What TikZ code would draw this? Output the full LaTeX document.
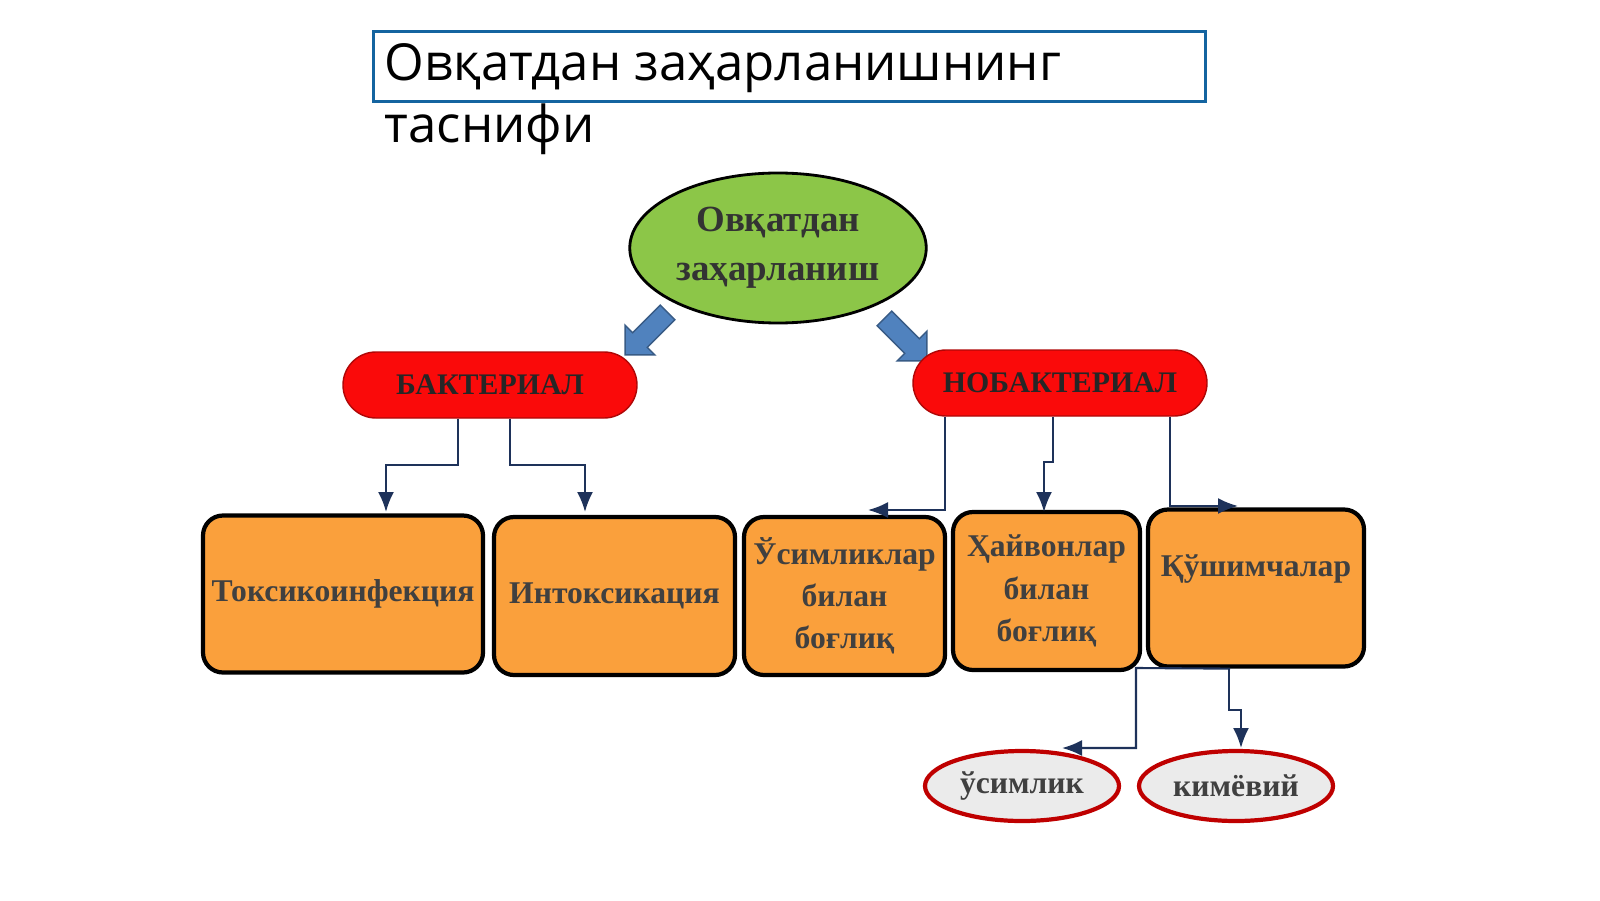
\documentclass[tikz,border=0pt]{standalone}
\usepackage{fontspec}
\setmainfont{Liberation Serif}
\newfontfamily\titlefont{Open Sans}
\usetikzlibrary{positioning, arrows.meta, shapes.geometric, shapes.arrows}
\definecolor{leafgreen}{RGB}{140,198,72}
\definecolor{boxorange}{RGB}{250,160,60}
\definecolor{pillred}{RGB}{250,10,10}
\definecolor{arrowblue}{RGB}{80,130,190}
\definecolor{linkblue}{RGB}{30,50,90}
\definecolor{framecol}{RGB}{20,100,160}
\tikzset{
    root/.style={ellipse, draw=black, thick, fill=leafgreen, minimum width=2.94cm, minimum height=1.5cm, inner sep=1pt, align=center, font=\bfseries\fontsize{10.5}{14}\selectfont, text=black!80},
    pill/.style={rectangle, rounded corners=0.33cm, draw=pillred!70!black, fill=pillred, minimum width=2.94cm, minimum height=0.66cm, inner sep=1pt, font=\bfseries\fontsize{8.5}{10}\selectfont, text=black!85},
    kind/.style={rectangle, rounded corners=0.2cm, draw=black, very thick, fill=boxorange, align=center, inner sep=1pt, font=\bfseries\fontsize{9}{12}\selectfont, text=black!75},
    leaf/.style={ellipse, draw=red!75!black, very thick, fill=black!8, minimum width=1.94cm, minimum height=0.7cm, inner sep=0pt, font=\bfseries\fontsize{9}{11}\selectfont, text=black!75},
    link/.style={-{Latex[length=2mm,width=1.6mm]}, linkblue, semithick},
    fat/.style={single arrow, fill=arrowblue, draw=arrowblue!70!black, minimum height=0.6cm, minimum width=0.42cm, single arrow head extend=0.1cm, inner sep=0.09cm}
}
\begin{document}
\begin{tikzpicture}
    \useasboundingbox (0,0) rectangle (16,9);
    % title
    \node (frame) [draw=framecol, thick, minimum width=8.32cm, minimum height=0.7cm, anchor=north west] at (3.72,8.7) {};
    \node (title) [anchor=north west, align=left, font=\titlefont\fontsize{14.5}{17.5}\selectfont, inner sep=0pt] at (3.84,8.57) {Овқатдан заҳарланишнинг\\таснифи};

    \node (food) [root] at (7.78,6.52) {Овқатдан\\заҳарланиш};
    \node (arL) [fat, rotate=-135] at (6.5,5.7) {};
    \node (arR) [fat, rotate=-45] at (9.02,5.64) {};

    \node (bact) [pill] at (4.9,5.15) {БАКТЕРИАЛ};
    \node (nobact) [pill] at (10.6,5.17) {НОБАКТЕРИАЛ};

    \node (toxi) [kind, minimum width=2.8cm, minimum height=1.57cm] at (3.43,3.06) {Токсикоинфекция};
    \node (intox) [kind, minimum width=2.41cm, minimum height=1.58cm] at (6.145,3.04) {Интоксикация};
    \node (plant) [kind, minimum width=2.01cm, minimum height=1.58cm] at (8.445,3.04) {Ўсимликлар\\билан\\боғлиқ};
    \node (animal) [kind, minimum width=1.87cm, minimum height=1.58cm] at (10.465,3.09) {Ҳайвонлар\\билан\\боғлиқ};
    \node (addit) [kind, minimum width=2.16cm, minimum height=1.57cm, text depth=0.45cm] at (12.56,3.12) {Қўшимчалар};

    \node (veg) [leaf] at (10.22,1.14) {ўсимлик};
    \node (chem) [leaf] at (12.36,1.14) {кимёвий};

    % connectors
    \coordinate (t1) at (3.86,3.88);
    \coordinate (t2) at (5.85,3.88);
    \coordinate (t3) at (8.68,3.9);
    \coordinate (t4) at (10.44,3.88);
    \coordinate (t5) at (12.38,3.94);
    \coordinate (t6) at (10.62,1.52);
    \coordinate (t7) at (12.41,1.52);
    \draw[link] (bact.south -| 4.58,0) |- (3.86,4.35) -- (t1);
    \draw[link] (bact.south -| 5.1,0) |- (5.85,4.35) -- (t2);
    \draw[link] (nobact.south -| 9.45,0) |- (t3);
    \draw[link] (nobact.south -| 10.53,0) |- (10.44,4.38) -- (t4);
    \draw[link] (nobact.south -| 11.7,0) |- (t5);
    \draw[link] (addit.south -| 12.3,0) -- (11.36,2.32) |- (t6);
    \draw[link] (addit.south -| 12.29,0) |- (12.41,1.9) -- (t7);
\end{tikzpicture}
\end{document}
